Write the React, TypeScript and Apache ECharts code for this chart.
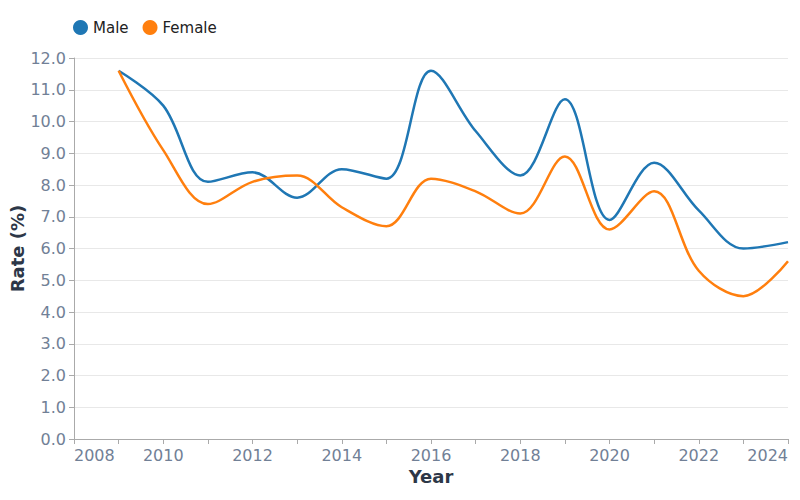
import { useEffect, useRef } from "react";
import * as echarts from "echarts";

const years = [2009, 2010, 2011, 2012, 2013, 2014, 2015, 2016, 2017, 2018, 2019, 2020, 2021, 2022, 2023, 2024];
const maleRates = [11.6, 10.5, 8.1, 8.4, 7.6, 8.5, 8.2, 11.6, 9.7, 8.3, 10.7, 6.9, 8.7, 7.2, 6.0, 6.2];
const femaleRates = [11.6, 9.1, 7.4, 8.1, 8.3, 7.3, 6.7, 8.2, 7.8, 7.1, 8.9, 6.6, 7.8, 5.3, 4.5, 5.6];

const FONT = "DejaVu Sans";

export default function App() {
  const chartRef = useRef<HTMLDivElement>(null);

  useEffect(() => {
    if (!chartRef.current) return;
    const chart = echarts.init(chartRef.current, null, { renderer: "svg" });

    const option: echarts.EChartsOption = {
      animation: false,
      textStyle: { fontFamily: FONT },
      legend: {
        data: ["Male", "Female"],
        left: 68,
        top: 15,
        icon: "circle",
        itemWidth: 15,
        itemHeight: 15,
        itemGap: 14,
        textStyle: { fontSize: 15, color: "#222", fontFamily: FONT },
      },
      grid: { left: 74, right: 12, top: 58, bottom: 61, outerBoundsMode: "none" } as any,
      xAxis: {
        type: "value",
        min: 2008,
        max: 2024,
        interval: 1,
        name: "Year",
        nameLocation: "middle",
        nameGap: 28,
        nameMoveOverlap: false,
        nameTextStyle: { fontSize: 18, fontWeight: "bold", color: "#2d3748", fontFamily: FONT },
        axisLine: { show: true, lineStyle: { color: "#aaaaaa" } },
        axisTick: { show: true, lineStyle: { color: "#aaaaaa" } },
        splitLine: { show: false },
        axisLabel: {
          fontSize: 16,
          color: "#718096",
          fontFamily: FONT,
          alignMinLabel: "left",
          alignMaxLabel: "right",
          formatter: (v: number) => (v % 2 === 0 ? String(v) : ""),
        },
      } as any,
      yAxis: {
        type: "value",
        min: 0,
        max: 12,
        interval: 1,
        name: "Rate (%)",
        nameLocation: "middle",
        nameGap: 48,
        nameMoveOverlap: false,
        nameTextStyle: { fontSize: 18, fontWeight: "bold", color: "#2d3748", fontFamily: FONT },
        axisLine: { show: true, lineStyle: { color: "#aaaaaa" } },
        axisTick: { show: true, lineStyle: { color: "#aaaaaa" } },
        splitLine: { lineStyle: { color: "#e8e8e8" } },
        axisLabel: {
          fontSize: 16,
          color: "#718096",
          fontFamily: FONT,
          formatter: (v: number) => v.toFixed(1),
        },
      } as any,
      series: [
        {
          name: "Male",
          type: "line",
          smooth: 0.35,
          showSymbol: false,
          symbol: "circle",
          data: years.map((y, i) => [y, maleRates[i]]),
          itemStyle: { color: "#1f77b4" },
          lineStyle: { color: "#1f77b4", width: 2.5 },
        },
        {
          name: "Female",
          type: "line",
          smooth: 0.35,
          showSymbol: false,
          symbol: "circle",
          data: years.map((y, i) => [y, femaleRates[i]]),
          itemStyle: { color: "#ff7f0e" },
          lineStyle: { color: "#ff7f0e", width: 2.5 },
        },
      ],
    };

    chart.setOption(option);
    return () => chart.dispose();
  }, []);

  return <div ref={chartRef} style={{ width: 800, height: 500, margin: -8 }} />;
}
